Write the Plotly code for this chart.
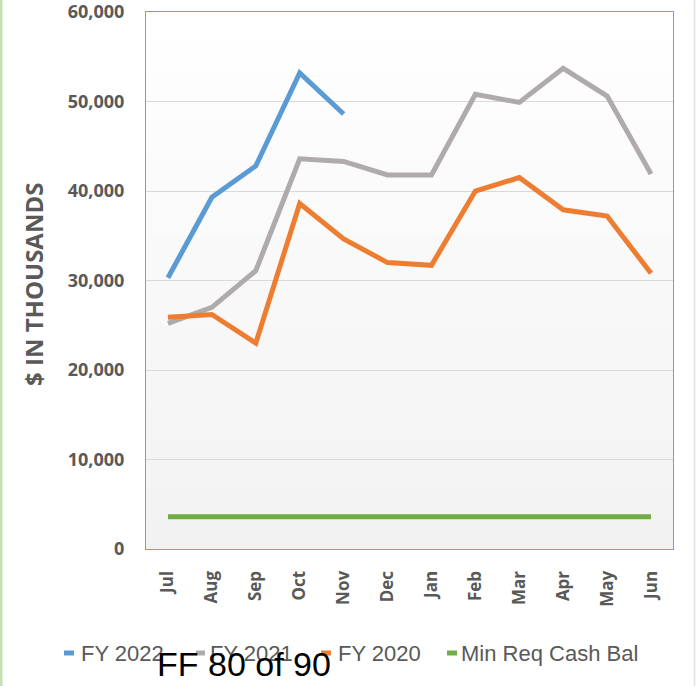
import plotly.graph_objects as go

# Monthly cash balance, $ in thousands (fiscal year runs Jul -> Jun)
months = ["Jul", "Aug", "Sep", "Oct", "Nov", "Dec", "Jan", "Feb", "Mar", "Apr", "May", "Jun"]

fy2022 = [30300, 39300, 42800, 53200, 48600]
fy2021 = [25200, 27000, 31100, 43600, 43300, 41800, 41800, 50800, 49900, 53700, 50600, 41900]
fy2020 = [25900, 26200, 23000, 38600, 34650, 32000, 31700, 40000, 41500, 37900, 37200, 30800]
min_req = [3600] * 12

series_names = ["FY 2022", "FY 2021", "FY 2020", "Min Req Cash Bal"]
series_values = [fy2022, fy2021, fy2020, min_req]
series_colors = ["#5b9bd5", "#afabab", "#ed7d31", "#70ad47"]

y_ticks = [0, 10000, 20000, 30000, 40000, 50000, 60000]

PW, PH, PL, PB = 527, 537, 146, 549  # plot width/height, left edge, bottom edge (px)


def px_x(x):
    return (x - PL) / PW


def px_y(y):
    return (PB - y) / PH


fig = go.Figure()
for name, vals, color in zip(series_names, series_values, series_colors):
    fig.add_trace(go.Scatter(
        x=months[:len(vals)], y=vals, name=name, mode="lines",
        line=dict(color=color, width=5), showlegend=False,
    ))

# vertical white -> light gray gradient behind the plot area
shapes = []
bands = 60
for i in range(bands):
    t = i / (bands - 1)
    g = int(round(255 - (255 - 242) * (1 - t)))
    shapes.append(dict(
        type="rect", xref="x domain", yref="y domain", layer="below",
        x0=0, x1=1, y0=i / bands, y1=(i + 1) / bands + 0.002,
        fillcolor=f"rgb({g},{g},{g})", line=dict(width=0),
    ))

# page edge rules
shapes.append(dict(type="line", xref="paper", yref="paper", x0=px_x(1), x1=px_x(1),
                   y0=px_y(690), y1=px_y(-4), line=dict(color="#c5e0b3", width=3)))
shapes.append(dict(type="line", xref="paper", yref="paper", x0=px_x(694.5), x1=px_x(694.5),
                   y0=px_y(690), y1=px_y(-4), line=dict(color="#e2e2e2", width=1.5)))

# custom legend: short colored dash + label
legend_marks = [(64, 74, 79), (196, 205, 208), (321, 331, 336), (447, 457, 459)]
legend_y = 653
annotations = []
for (m0, m1, tx), name, color in zip(legend_marks, series_names, series_colors):
    shapes.append(dict(type="line", xref="paper", yref="paper",
                       x0=px_x(m0), x1=px_x(m1), y0=px_y(legend_y), y1=px_y(legend_y),
                       line=dict(color=color, width=5)))
    annotations.append(dict(
        text=name, xref="paper", yref="paper", x=px_x(tx), y=px_y(legend_y),
        xanchor="left", yanchor="middle", showarrow=False,
        font=dict(family="Liberation Sans", size=22, color="#595959"),
    ))

annotations.append(dict(
    text="$ IN THOUSANDS", xref="paper", yref="paper", x=px_x(33), y=px_y(285),
    xanchor="center", yanchor="middle", textangle=-90, showarrow=False,
    font=dict(family="Open Sans", size=24, color="#595959", weight="bold"),
))
annotations.append(dict(
    text="FF 80 of 90", xref="paper", yref="paper", x=px_x(244), y=px_y(664),
    xanchor="center", yanchor="middle", showarrow=False,
    font=dict(family="Liberation Sans", size=34, color="#000000"),
))

fig.update_layout(
    width=698, height=686,
    margin=dict(l=146, r=25, t=12, b=137, autoexpand=False),
    paper_bgcolor="white", plot_bgcolor="white",
    shapes=shapes, annotations=annotations,
    showlegend=False,
)
fig.update_xaxes(
    type="category", range=[-0.5, 11.5], tickangle=-90, showgrid=False, zeroline=False,
    ticks="outside", ticklen=14, tickcolor="rgba(0,0,0,0)", automargin=False,
    tickfont=dict(family="Open Sans", size=17, color="#595959", weight="bold"),
    showline=True, linecolor="#6fa1d9", linewidth=1.2, mirror=True,
)
fig.update_yaxes(
    range=[0, 60000], tickvals=y_ticks, tickformat=",", showgrid=True,
    gridcolor="#d9d9d9", gridwidth=1, zeroline=False, ticklabeloverflow="allow",
    ticks="outside", ticklen=17, tickcolor="rgba(0,0,0,0)", automargin=False,
    tickfont=dict(family="Open Sans", size=18, color="#595959", weight="bold"),
    showline=True, linecolor="#6fa1d9", linewidth=1.2, mirror=True,
)

fig.write_html("out.html")
